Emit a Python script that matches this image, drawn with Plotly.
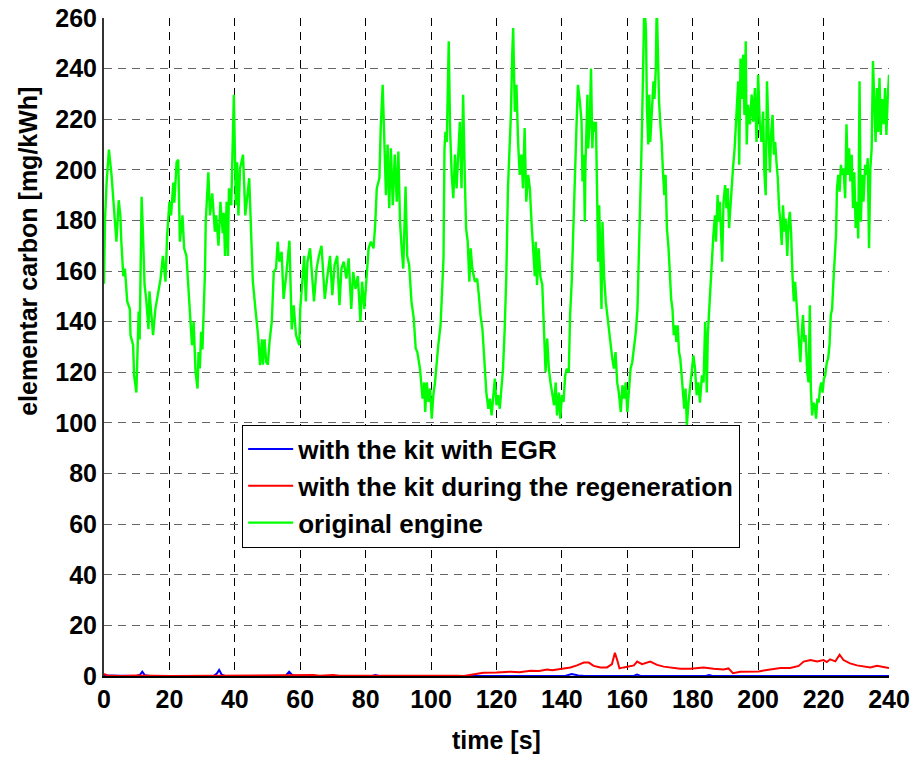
import plotly.graph_objects as go

# ---- original engine (time [s], elementar carbon [mg/kWh]) ----
green_t = [
    0.0, 0.3, 0.8, 1.5, 2.3, 2.8, 3.3, 3.8, 4.5, 5.0, 5.3, 5.9, 6.4, 7.1, 7.9, 8.1, 8.9, 9.2, 9.9,
    10.2, 10.6, 10.9, 11.2, 11.5, 11.9, 12.4, 12.9, 13.6, 13.9, 14.4, 15.0, 15.7, 16.5, 17.3, 18.0,
    18.8, 19.3, 20.0, 20.5, 21.2, 21.5, 22.2, 22.7, 23.2, 24.0, 24.5, 25.2, 25.9, 26.3, 26.9, 27.4,
    28.0, 28.6, 28.9, 29.3, 29.7, 30.1, 30.9, 31.1, 31.6, 31.9, 32.4, 33.1, 33.9, 34.3, 35.0, 35.6,
    36.3, 36.6, 37.0, 37.5, 37.9, 38.2, 38.9, 39.7, 40.0, 40.3, 40.7, 41.1, 41.6, 42.5, 42.9, 43.2,
    44.4, 44.8, 45.0, 45.5, 46.3, 47.1, 47.7, 48.3,
    48.6, 49.1, 49.6, 50.1, 50.6, 51.3, 51.9, 52.6, 53.1, 53.6, 54.3, 54.9, 55.6, 56.7, 57.4, 58.0,
    58.7, 59.7, 60.0, 60.7, 61.2, 61.7, 62.2, 63.0, 63.7, 64.2, 65.0, 65.7, 66.5, 67.0, 67.5, 68.3,
    69.1, 69.8, 70.5, 71.3, 72.0, 72.6, 73.3, 74.1, 74.8, 75.6, 76.2, 76.9, 77.6, 78.4, 78.9, 79.6,
    80.2, 80.9, 81.6, 82.4, 82.9, 83.4, 84.2, 84.6, 85.2, 85.7, 86.2, 86.7, 87.2, 87.7, 88.3, 88.9,
    89.5, 90.0, 90.5, 91.0, 91.5, 92.2, 92.7, 93.3, 94.0, 94.7, 95.3, 95.8, 96.6, 97.4, 97.9,
    98.2, 98.7, 99.2, 99.7, 100.2, 100.7, 101.2, 101.7, 102.2, 102.9, 103.5, 103.8, 104.1, 104.4,
    104.8, 105.1, 105.4, 105.8, 106.3, 106.8, 107.3, 107.8, 108.3, 108.8, 109.3, 109.8, 110.3,
    110.7, 111.2, 111.7, 112.1, 112.6, 113.4, 114.1, 114.6, 115.1, 115.7, 116.4, 116.9, 117.5,
    118.0, 118.5, 119.0, 119.5, 120.0, 120.5, 121.0, 121.5, 122.0, 122.5, 123.0, 123.5, 124.0,
    124.4, 124.8, 125.1, 125.6, 126.1, 126.6, 127.1, 127.6, 128.1, 128.6, 129.1, 129.7, 130.2,
    130.7, 131.2, 131.7, 132.0, 132.4, 132.9, 133.4, 134.0, 134.5, 135.0, 135.5, 136.0, 136.5,
    137.0, 137.6, 138.1, 138.5, 139.1, 139.5, 140.0, 140.5, 141.0, 141.5, 142.1, 142.5, 143.0,
    143.6, 144.0, 144.4, 144.9,
    145.5, 146.0, 146.3, 146.7, 147.0, 147.2, 147.8, 148.0, 148.5, 148.9, 149.3, 149.6, 150.1,
    150.4, 150.7, 151.1, 151.4, 151.8, 152.1, 152.4, 152.9, 153.4, 153.9, 154.4, 154.9, 155.4,
    155.9, 156.4, 156.9, 157.4, 158.0, 158.5, 159.0, 159.5, 160.0, 160.5, 161.0, 161.5, 162.0,
    162.6, 163.1, 163.4, 163.8, 164.2, 164.5, 164.9, 165.2, 165.7, 166.0, 166.4, 166.7, 167.0,
    167.4, 168.0, 168.3, 168.7, 169.0, 169.3, 169.7, 170.1, 170.5, 170.9, 171.3, 171.7, 172.1,
    172.6, 173.0, 173.4, 173.8, 174.2, 174.6, 175.0, 175.4, 175.8, 176.2, 176.6, 177.0, 177.4,
    177.8, 178.2, 178.7, 179.2, 179.7, 180.2, 180.7, 181.2, 181.7, 182.2, 182.8, 183.3, 183.8,
    184.3, 184.6, 185.0, 185.4, 185.8, 186.3, 186.8, 187.1, 187.6, 187.9, 188.3, 188.7, 189.0,
    189.4, 189.9, 190.3, 190.7, 191.1, 191.5, 191.9, 192.3, 192.8, 193.2, 193.6,
    193.9, 194.2, 194.6, 195.0, 195.4, 195.8, 196.2, 196.5, 196.9, 197.5, 198.0, 198.5, 199.0,
    199.5, 200.0, 200.5, 201.0, 201.5, 201.9, 202.3, 202.7, 203.2, 203.6, 204.0, 204.4, 204.8,
    205.2, 205.6, 206.0, 206.4, 206.8, 207.2, 207.6, 208.0, 208.4, 208.9, 209.3, 209.7, 210.1,
    210.5, 210.9, 211.3, 211.7, 212.1, 212.5, 212.9, 213.3, 213.7, 214.1, 214.5, 215.0, 215.4,
    215.8, 216.1, 216.5, 216.9, 217.3, 217.7, 218.1, 218.5, 218.9, 219.3, 219.7, 220.1, 220.5,
    221.0, 221.4, 221.8, 222.2, 222.6, 223.0, 223.4, 223.8, 224.1, 224.5, 224.9, 225.3, 225.7,
    226.1, 226.6, 227.0, 227.4, 227.8, 228.2, 228.6, 229.0, 229.4, 229.8, 230.2, 230.6, 231.0,
    231.4, 231.8, 232.2, 232.7, 233.1, 233.5, 233.9, 234.3, 234.7, 235.1, 235.5, 235.9, 236.3,
    236.7, 237.1, 237.5, 237.9, 238.4, 238.8, 239.2, 239.6, 240.0,
]
green_v = [
    155, 180, 195, 208, 198, 190, 179.5, 171.6, 188, 182, 171.6, 158, 161, 148, 145, 134.7, 130.7, 118.8, 112,
    129.4, 144, 133, 154.5, 189.4, 175.6, 154.5, 149, 137, 152, 142.6, 134.7, 145, 150.5, 157, 166,
    155.8, 174, 187.4, 182, 195, 187, 203, 204, 171.6, 182, 169, 166, 153, 142.6, 130.7, 140,
    120, 113.6, 128, 121.5, 136, 129, 161, 179.5, 195.4, 199, 182, 190.7, 175.6, 182, 170, 187.4,
    175, 183, 166, 187.4, 166, 192.7, 186, 229.7, 208.5, 186, 203, 182, 200.6, 206, 192.7, 182,
    196.7, 179.5, 169, 156, 145, 134.7, 122.8, 133,
    123, 133, 124, 123, 132, 140, 159.7, 161, 171.6, 163.7, 167.6, 149, 157, 172, 137, 146.5,
    134.7, 130.7, 145, 158, 166, 148, 163.7, 169, 158, 148, 161, 166, 170, 161, 149, 158,
    166, 150.5, 162.4, 166, 146.5, 161, 163.7, 157, 165, 145, 159.7, 153, 158, 140, 155.8, 145,
    158, 169, 171.6, 169, 178, 192.7, 196.7, 216.5, 233.6, 211, 190, 210, 184.8, 208.5, 186, 206,
    187.4, 207.2, 179.5, 169, 161, 193.4, 166, 162.4, 148, 141.3, 129.4, 128, 121.5, 109.6, 116,
    104.3, 116, 108.3, 113.6, 101.7, 111, 116, 125.4, 130.7, 138.6, 153, 165, 208.5, 215,
    211, 237.6, 250.8, 216.5, 198, 188.8, 206, 192.7, 204.6, 219, 192.7, 229.7, 198,
    176.9, 171.6, 155.8, 169, 161, 155.8, 157, 150.5, 142.6, 137, 121.5, 112, 105.6,
    109.6, 103, 111, 117.5, 107, 111, 105.6, 113.6, 121.5, 137, 158, 192.7, 208.5,
    221.7, 245.5, 256, 223, 233.6, 211, 198, 206, 192.7, 216.5, 187.4, 198, 192.7,
    179.5, 169, 158, 171.6, 154.5, 169, 158, 154.5, 138.6, 120, 133.3, 121.5, 116,
    112, 107, 116, 103, 112, 101.7, 111, 108.3, 118.8, 121.5, 120, 142.6, 155.8,
    182, 206, 215, 233.6,
    227, 219, 195.4, 206, 179.5, 202, 229.7, 208.5, 218, 240, 208.5, 219, 215,
    219, 187.4, 163.7, 186, 155.8, 145, 179.5, 158, 148, 142.6, 136, 129.4, 125.4,
    121.5, 128, 116, 112, 104.3, 114.9, 109.6, 116, 104.3, 113.6, 121.5, 124, 129.4,
    136, 145, 163.7, 182, 200.6, 218, 248, 266, 255, 224.4, 210, 229.7, 211,
    221.7, 235, 228, 240, 266, 244, 227, 218, 211, 199, 190, 198, 177,
    169, 158, 149, 145, 134.7, 138.6, 132, 138.6, 128, 125.4, 117.5, 111, 105.6,
    113.6, 99, 108, 113.6, 118.8, 126.7, 121.5, 111, 116, 108, 118.8, 116, 140,
    112, 134.7, 145, 155.8, 163.7, 174.2, 182, 171.6, 190, 179.5, 187.4, 177, 163.7,
    187.4, 194, 184.8, 192.7, 177, 186, 190, 200.6, 208.5, 219, 224.4,
    235, 202, 244, 228, 245.5, 221.7, 250.8, 210, 225.7, 218, 229.7, 219, 232.3,
    211, 237.6, 218, 211, 223, 199, 190, 235, 213.8, 199, 215, 221.7, 206,
    211, 203, 196.7, 184.8, 179.5, 170.3, 186, 175.6, 180.8, 166, 179.5, 183.4, 174.2,
    158, 148, 155.8, 148, 140, 128, 124, 134.7, 142.6, 132, 134.7, 120, 116,
    146.5, 113.6, 103, 108, 107, 101.7, 109.6, 108, 113.6, 116, 112, 117.5, 118.8,
    124, 125.4, 130.7, 142.6, 145, 155.8, 163.7, 174.2, 192.7, 198, 191.4, 202, 198,
    200.6, 188.8, 218, 198, 208.5, 195.4, 206, 184.8, 199, 177, 187.4, 172.9, 235,
    179.5, 198, 187.4, 202, 198, 204.6, 169, 200.6, 208.5, 243, 227, 211, 232.3,
    215, 236.3, 213.8, 228, 218, 232.3, 213.8, 228, 237.6,
]

# ---- with the kit during the regeneration ----
red_t = [0, 1, 5, 10, 20, 30, 40, 50, 60, 62, 64, 66, 70, 72, 80, 90, 100, 108, 110, 113, 116,
         120, 124.3, 127, 130.4, 133, 135.5, 137, 139.7, 142.6, 144.6, 146.7, 148.2, 149.7, 151.8,
         153.8, 155.3, 156.2, 156.9, 157.6, 158.9, 160.9, 162.0, 163.0, 164.5, 167.0, 169.1, 171.1,
         173.2, 176.2, 179.3, 181.0, 183.3, 186.4, 189.4, 190.9, 192.3, 194.5, 197.6, 200.1, 203.7,
         206.8, 209.8, 212.4, 213.9, 216.0, 218.0, 220.0, 221.0, 222.0, 223.6, 224.9, 226.1, 228.1,
         230.2, 232.2, 234.3, 236.3, 238.4, 240.0]
red_v = [0.8, 0.2, 0, 0.2, 0, 0.1, 0, 0.1, 0.2, 0.5, 0.4, 0.1, 0.4, 0.1, 0.1, 0.3, 0.2, 0.1, 0, 0.7, 1.3,
         1.4, 1.7, 1.5, 2.1, 2.0, 2.6, 2.3, 2.9, 3.4, 4.2, 5.3, 5.3, 4.0, 3.4,
         3.4, 4.7, 9.2, 6.3, 3.0, 3.4, 4.0, 4.2, 5.7, 4.7, 5.7, 4.4, 3.7,
         3.4, 2.9, 2.9, 3.2, 3.4, 2.9, 2.6, 3.0, 1.1, 1.7, 1.8, 1.8, 2.6,
         3.2, 3.2, 4.0, 5.7, 6.3, 5.7, 6.3, 5.5, 6.6, 5.8, 8.4, 6.3, 5.0,
         4.2, 3.7, 3.4, 4.0, 3.7, 3.2]

# ---- with the kit with EGR ----
blue_t = [0, 5, 10, 11, 11.7, 12.5, 14, 33.5, 34.5, 35.2, 36, 37, 55.5, 56.6, 57.6, 59, 82, 83, 84,
          110, 141, 143, 145, 147, 162, 163, 164, 184, 185, 186, 240]
blue_v = [0.2, 0, 0, 0.5, 1.7, 0.3, 0, 0, 1.0, 2.4, 0.5, 0, 0, 1.7, 0.3, 0, 0, 0.4, 0,
          0, 0, 0.8, 0.2, 0, 0, 0.6, 0, 0, 0.4, 0, 0]

x_ticks = list(range(0, 241, 20))
y_ticks = list(range(0, 261, 20))

FONT = "Liberation Sans, Arial, sans-serif"

fig = go.Figure()
fig.add_trace(go.Scatter(x=blue_t, y=blue_v, mode="lines", name="with the kit with EGR",
                         line=dict(color="#0000FF", width=2)))
fig.add_trace(go.Scatter(x=red_t, y=red_v, mode="lines", name="with the kit during the regeneration",
                         line=dict(color="#FF0000", width=2)))
fig.add_trace(go.Scatter(x=green_t, y=green_v, mode="lines", name="original engine",
                         line=dict(color="#00FF00", width=2.4)))

fig.update_layout(
    width=914, height=758,
    margin=dict(l=104, r=25, t=18, b=82, autoexpand=False),
    paper_bgcolor="white", plot_bgcolor="white",
    font=dict(family=FONT, color="black"),
    showlegend=True,
    legend=dict(
        x=0.176, y=0.382, xanchor="left", yanchor="top",
        bgcolor="white", bordercolor="black", borderwidth=1,
        font=dict(family=FONT, size=26, weight="bold", color="black"),
        tracegroupgap=0, itemwidth=45,
    ),
    xaxis=dict(
        range=[0, 240], tickmode="array", tickvals=x_ticks, automargin=False,
        showgrid=True, gridcolor="#000000", gridwidth=1, griddash="8px,6px",
        showline=True, linecolor="black", linewidth=2,
        zeroline=False, ticks="",
        tickfont=dict(family=FONT, size=25, weight="bold", color="black"),
    ),
    yaxis=dict(
        range=[0, 260], tickmode="array", tickvals=y_ticks, automargin=False,
        showgrid=True, gridcolor="#666666", gridwidth=1, griddash="8px,6px",
        showline=True, linecolor="#333333", linewidth=2,
        zeroline=False, ticks="",
        tickfont=dict(family=FONT, size=25, weight="bold", color="black"),
    ),
    annotations=[
        dict(text="time [s]", xref="paper", yref="paper", x=0.5, y=-0.098,
             xanchor="center", yanchor="middle", showarrow=False,
             font=dict(family=FONT, size=25, weight="bold", color="black")),
        dict(text="elementar carbon [mg/kWh]", xref="paper", yref="paper",
             x=-0.097, y=0.646, xanchor="center", yanchor="middle", textangle=-90,
             showarrow=False,
             font=dict(family=FONT, size=25, weight="bold", color="black")),
    ],
)

fig.write_html("out.html")
